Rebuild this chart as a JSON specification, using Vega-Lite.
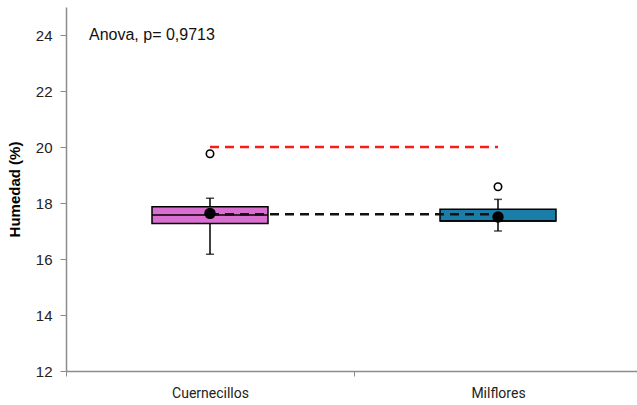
{
  "$schema": "https://vega.github.io/schema/vega-lite/v6.json",
  "width": 576,
  "height": 364,
  "autosize": {"type": "none"},
  "padding": {"left": 66, "top": 7, "right": 0, "bottom": 34},
  "background": "white",
  "config": {"view": {"stroke": null}, "font": "Liberation Sans"},
  "datasets": {
    "cajas": [
      {"grupo": "Cuernecillos", "q1": 17.27, "q3": 17.87, "mediana": 17.57, "min": 16.17, "max": 18.17, "media": 17.63, "atipico": 19.76},
      {"grupo": "Milflores", "q1": 17.36, "q3": 17.78, "mediana": 17.36, "min": 17.0, "max": 18.13, "media": 17.5, "atipico": 18.58}
    ],
    "lineas": [
      {"grupo": "Cuernecillos", "serie": "roja", "valor": 20},
      {"grupo": "Milflores", "serie": "roja", "valor": 20},
      {"grupo": "Cuernecillos", "serie": "negra", "valor": 17.6},
      {"grupo": "Milflores", "serie": "negra", "valor": 17.6}
    ]
  },
  "layer": [
    {
      "data": {"name": "cajas"},
      "mark": {"type": "rule", "color": "black", "strokeWidth": 1.5},
      "encoding": {
        "x": {"field": "grupo", "type": "nominal",
          "scale": {"domain": ["Cuernecillos", "Milflores"], "paddingInner": 0, "paddingOuter": 0},
          "axis": {"title": null, "labelAngle": 0, "tickBand": "extent", "domainColor": "#8c8c8c", "domainWidth": 1.5, "tickColor": "#8c8c8c", "tickSize": 5, "labelColor": "#222", "labelFontSize": 14, "labelPadding": 10, "labelFont": "Roboto"}},
        "y": {"field": "min", "type": "quantitative",
          "scale": {"domain": [12, 25], "nice": false, "zero": false},
          "axis": {"values": [12, 14, 16, 18, 20, 22, 24], "grid": false, "title": "Humedad (%)", "titleFontWeight": "bold", "titleFontSize": 15, "titleColor": "black", "titlePadding": 13, "domainColor": "#8c8c8c", "domainWidth": 1.5, "tickColor": "#8c8c8c", "tickSize": 6, "labelColor": "#222", "labelFontSize": 15, "labelPadding": 8}},
        "y2": {"field": "max"}
      }
    },
    {
      "data": {"name": "cajas"},
      "mark": {"type": "tick", "color": "black", "size": 8, "thickness": 1.5},
      "encoding": {
        "x": {"field": "grupo", "type": "nominal"},
        "y": {"field": "min", "type": "quantitative"}
      }
    },
    {
      "data": {"name": "cajas"},
      "mark": {"type": "tick", "color": "black", "size": 8, "thickness": 1.5},
      "encoding": {
        "x": {"field": "grupo", "type": "nominal"},
        "y": {"field": "max", "type": "quantitative"}
      }
    },
    {
      "data": {"name": "cajas"},
      "mark": {"type": "bar", "size": 116, "stroke": "black", "strokeWidth": 1.5, "opacity": 1},
      "encoding": {
        "x": {"field": "grupo", "type": "nominal"},
        "y": {"field": "q1", "type": "quantitative"},
        "y2": {"field": "q3"},
        "fill": {"field": "grupo", "type": "nominal", "scale": {"domain": ["Cuernecillos", "Milflores"], "range": ["#D96FD0", "#1A7EA8"]}, "legend": null}
      }
    },
    {
      "data": {"name": "cajas"},
      "mark": {"type": "tick", "color": "black", "size": 116, "thickness": 1.5, "opacity": 1},
      "encoding": {
        "x": {"field": "grupo", "type": "nominal"},
        "y": {"field": "mediana", "type": "quantitative"}
      }
    },
    {
      "data": {"name": "lineas"},
      "mark": {"type": "line", "strokeWidth": 2.5, "strokeDash": [9, 6]},
      "encoding": {
        "x": {"field": "grupo", "type": "nominal"},
        "y": {"field": "valor", "type": "quantitative"},
        "detail": {"field": "serie"},
        "stroke": {"field": "serie", "type": "nominal", "scale": {"domain": ["roja", "negra"], "range": ["#FF1A1A", "#111111"]}, "legend": null}
      }
    },
    {
      "data": {"name": "cajas"},
      "mark": {"type": "point", "filled": true, "color": "black", "size": 130, "opacity": 1},
      "encoding": {
        "x": {"field": "grupo", "type": "nominal"},
        "y": {"field": "media", "type": "quantitative"}
      }
    },
    {
      "data": {"name": "cajas"},
      "mark": {"type": "point", "filled": false, "color": "black", "fill": "white", "size": 55, "strokeWidth": 1.6, "opacity": 1},
      "encoding": {
        "x": {"field": "grupo", "type": "nominal"},
        "y": {"field": "atipico", "type": "quantitative"}
      }
    },
    {
      "mark": {"type": "rule", "color": "black", "strokeWidth": 2},
      "encoding": {"y": {"datum": 25}}
    },
    {
      "data": {"values": [{"grupo": "Cuernecillos", "y": 24, "etiqueta": "Anova, p= 0,9713"}]},
      "mark": {"type": "text", "align": "left", "baseline": "middle", "dx": 23, "fontSize": 16, "color": "#111"},
      "encoding": {
        "x": {"field": "grupo", "type": "nominal", "bandPosition": 0},
        "y": {"field": "y", "type": "quantitative"},
        "text": {"field": "etiqueta"}
      }
    }
  ]
}
